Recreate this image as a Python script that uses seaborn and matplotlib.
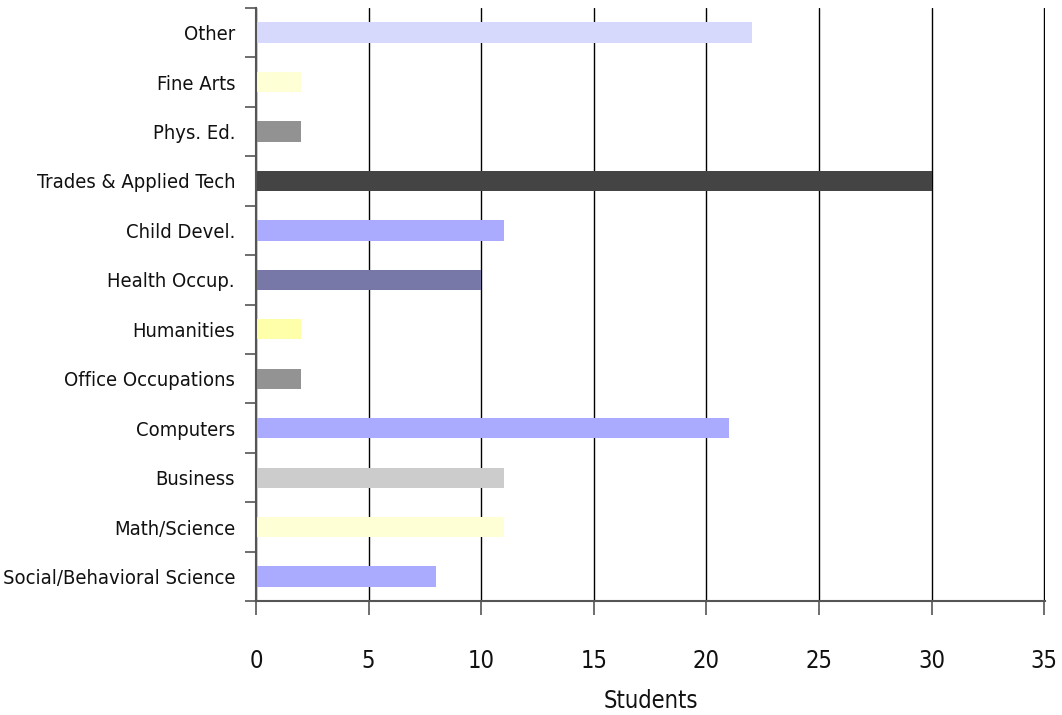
import pandas as pd
import matplotlib.pyplot as plt
import seaborn as sns

# chart data
categories = ["Other", "Fine Arts", "Phys. Ed.", "Trades & Applied Tech", "Child Devel.",
              "Health Occup.", "Humanities", "Office Occupations", "Computers",
              "Business", "Math/Science", "Social/Behavioral Science"]
students = [22, 2, 2, 30, 11, 10, 2, 2, 21, 11, 11, 8]
bar_colors = ["#D6D8FC", "#FFFFD6", "#929292", "#444444", "#AAAAFF", "#7878A8",
              "#FFFFAA", "#939393", "#AAAAFF", "#CCCCCC", "#FFFFD6", "#AAAAFF"]
x_ticks = [0, 5, 10, 15, 20, 25, 30, 35]

sns.set_theme(style="white")
plt.rcParams['font.family'] = ['DejaVu Sans']
plt.rcParams['font.stretch'] = 'condensed'

df = pd.DataFrame({"category": categories, "students": students})

fig = plt.figure(figsize=(10.62, 7.15), dpi=100)
ax = fig.add_axes([0.241, 0.159, 0.743, 0.830])

sns.barplot(data=df, y="category", x="students", hue="category", order=categories,
            palette=dict(zip(categories, bar_colors)), legend=False, width=0.41,
            saturation=1, linewidth=0, ax=ax)

ax.set_xlim(0, 35.03)
ax.set_ylim(len(categories) - 0.5, -0.5)
ax.set_xticks(x_ticks)
ax.set_xticklabels([str(t) for t in x_ticks], fontsize=17, color="#111111")
ax.xaxis.grid(True, color="black", linewidth=1)
ax.set_axisbelow(True)

# y ticks sit between categories
ax.set_yticks(range(len(categories)))
ax.set_yticklabels(categories, fontsize=14.5, color="#111111")
ax.set_yticks([i - 0.5 for i in range(len(categories) + 1)], minor=True)
ax.tick_params(axis="y", which="major", left=False, length=0, pad=15)
ax.tick_params(axis="y", which="minor", left=True, length=8, width=1.2,
               color="#555555", direction="out")
ax.tick_params(axis="x", bottom=True, length=10, width=1.2, color="#555555",
               direction="out", pad=24)

for side in ["top", "right"]:
    ax.spines[side].set_visible(False)
for side in ["left", "bottom"]:
    ax.spines[side].set_color("#555555")
    ax.spines[side].set_linewidth(1.5)

ax.set_ylabel("")
ax.set_xlabel("Students", fontsize=17, color="#111111", labelpad=12)

fig.savefig("out.png", dpi=100)
